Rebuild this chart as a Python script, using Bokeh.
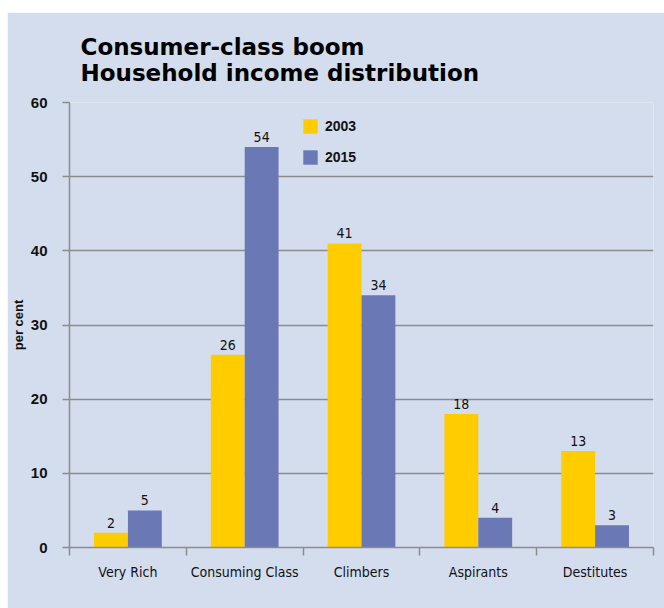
from bokeh.plotting import figure
from bokeh.models import ColumnDataSource, FixedTicker, Legend, LegendItem, Range1d, Title
from bokeh.core.properties import value
from bokeh.embed import file_html
from bokeh.resources import INLINE
from bokeh.transform import dodge

# ---- data ----
categories = ["Very Rich", "Consuming Class", "Climbers", "Aspirants", "Destitutes"]
share_2003 = [2, 26, 41, 18, 13]
share_2015 = [5, 54, 34, 4, 3]
years = ["2003", "2015"]
y_ticks = [0, 10, 20, 30, 40, 50, 60]
title_lines = ["Consumer-class boom", "Household income distribution"]
y_label = "per cent"

# ---- style ----
BG = "#d4ddee"
YELLOW = "#ffcc00"
BLUE = "#6a78b6"
GRID = "#8c8c8c"
TXT = "#111111"
NARROW = "DejaVu Sans Condensed"
BOLD = "Liberation Sans"
HEAVY = "DejaVu Sans"

pos = [i + 0.5 for i in range(len(categories))]
src = ColumnDataSource(dict(
    pos=pos, cat=categories, a=share_2003, b=share_2015,
    la=[str(v) for v in share_2003], lb=[str(v) for v in share_2015],
))

p = figure(width=657, height=596, x_range=Range1d(0, len(categories)), y_range=Range1d(0, 60),
           output_backend="svg", toolbar_location=None, title=None,
           min_border_left=55, min_border_right=11, min_border_top=90, min_border_bottom=61,
           background_fill_color=BG, border_fill_color=BG, outline_line_color=None)
p.styles = {"margin-top": "12px", "margin-left": "7px"}

off = 0.145
bw = 0.29
r1 = p.vbar(x=dodge("pos", -off), top="a", width=bw, source=src, fill_color=YELLOW, line_color=None)
r2 = p.vbar(x=dodge("pos", off), top="b", width=bw, source=src, fill_color=BLUE, line_color=None)

p.text(x=dodge("pos", -off), y="a", text="la", source=src, y_offset=-5, text_align="center",
       text_baseline="bottom", text_font=value(NARROW), text_font_size="14px", text_color=TXT)
p.text(x=dodge("pos", off), y="b", text="lb", source=src, y_offset=-5, text_align="center",
       text_baseline="bottom", text_font=value(NARROW), text_font_size="14px", text_color=TXT)

# x axis: category labels at centres, ticks at boundaries
xa = p.xaxis[0]
xa.ticker = FixedTicker(ticks=pos, minor_ticks=list(range(len(categories) + 1)))
xa.major_label_overrides = {pos[i]: categories[i] for i in range(len(categories))}
xa.major_tick_out = 0
xa.major_tick_in = 0
xa.minor_tick_out = 8
xa.minor_tick_in = 0
xa.minor_tick_line_color = GRID
xa.minor_tick_line_width = 1.5
xa.axis_line_color = GRID
xa.axis_line_width = 1.5
xa.major_label_standoff = 8
xa.major_label_text_font = NARROW
xa.major_label_text_font_size = "14px"
xa.major_label_text_color = TXT

ya = p.yaxis[0]
ya.ticker = FixedTicker(ticks=y_ticks)
ya.major_tick_out = 7
ya.major_tick_in = 0
ya.minor_tick_out = 0
ya.minor_tick_in = 0
ya.major_tick_line_color = GRID
ya.major_tick_line_width = 1.5
ya.axis_line_color = GRID
ya.axis_line_width = 1.5
ya.major_label_standoff = 15
ya.major_label_text_font = BOLD
ya.major_label_text_font_style = "bold"
ya.major_label_text_font_size = "15px"
ya.major_label_text_color = TXT
ya.axis_label = y_label
ya.axis_label_text_font = BOLD
ya.axis_label_text_font_style = "bold"
ya.axis_label_text_font_size = "13px"
ya.axis_label_text_color = TXT
ya.axis_label_standoff = 2

p.xgrid.visible = False
p.ygrid.grid_line_color = GRID
p.ygrid.grid_line_width = 1.5

legend = Legend(items=[LegendItem(label=years[0], renderers=[r1]),
                       LegendItem(label=years[1], renderers=[r2])],
                location=(232, 381), orientation="vertical",
                glyph_width=18, glyph_height=18, label_height=18, spacing=13,
                padding=0, margin=0, label_standoff=6,
                label_text_font=BOLD, label_text_font_style="bold", label_text_font_size="14px",
                label_text_color=TXT, background_fill_alpha=0, border_line_alpha=0)
p.add_layout(legend)

p.add_layout(Title(text="\n".join(title_lines), align="left", offset=11, standoff=34,
                   text_font=HEAVY, text_font_style="bold", text_font_size="23px",
                   text_color="#000000"), "above")

open("out.html", "w").write(file_html(p, INLINE))
